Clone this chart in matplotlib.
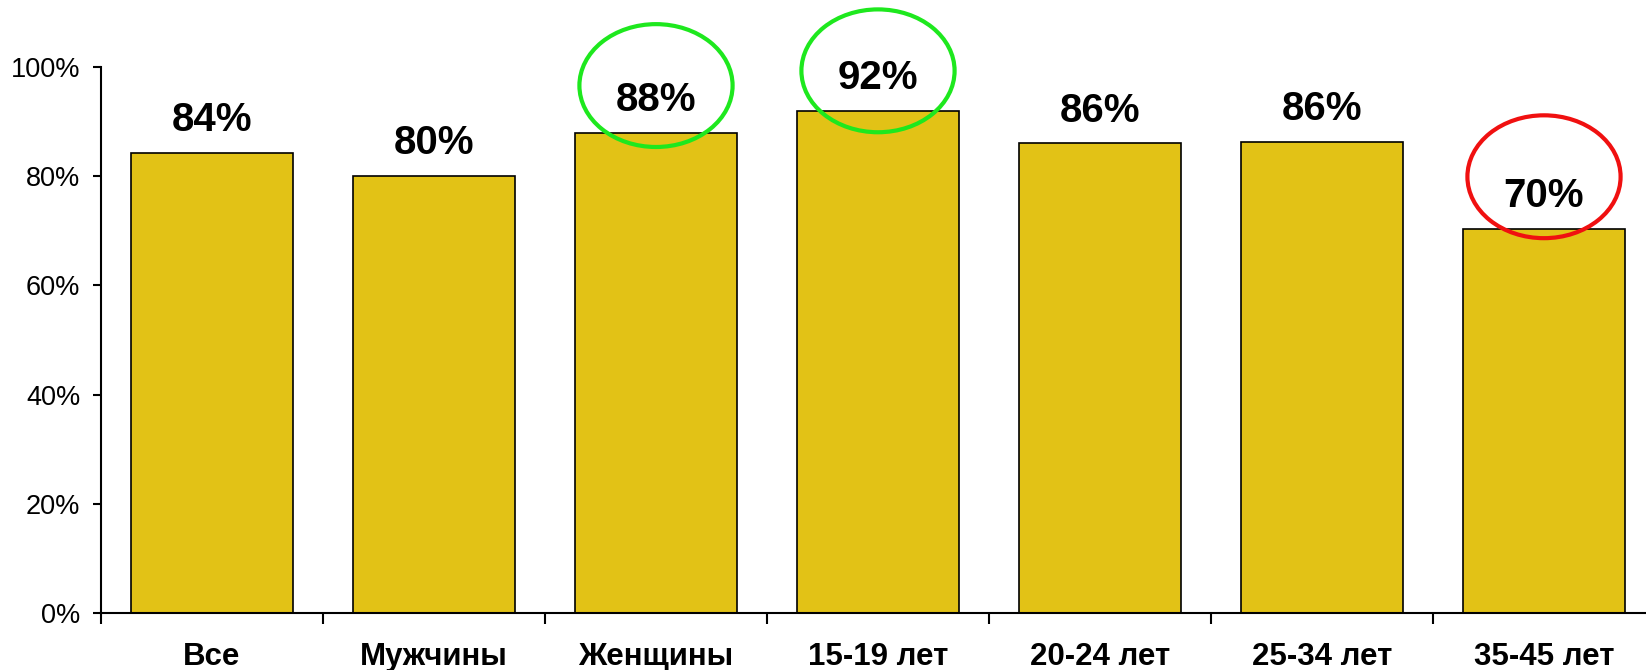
import numpy as np
import matplotlib
matplotlib.use("Agg")
import matplotlib.pyplot as plt
from matplotlib.patches import Ellipse

plt.rcParams['font.family'] = ['Liberation Sans', 'DejaVu Sans']

# data
categories = ['Все', 'Мужчины', 'Женщины', '15-19 лет', '20-24 лет', '25-34 лет', '35-45 лет']
values = [84.2, 80.0, 88.0, 92.0, 86.0, 86.3, 70.4]
labels = ['84%', '80%', '88%', '92%', '86%', '86%', '70%']
# bars circled on the slide: index, colour, centre above bar top (%)
hl_index = [2, 3, 6]
hl_color = ['#1EE81E', '#1EE81E', '#F01010']
hl_dy = [8.6, 7.3, 9.5]

bar_color = '#E2C216'

fig = plt.figure(figsize=(16.46, 6.70), dpi=100)
# axes run past the right edge, like the cropped slide
ax = fig.add_axes([101/1646, 57/670, 1554/1646, 546/670])

x = np.arange(len(categories))
ax.bar(x, values, width=0.73, color=bar_color, edgecolor='black', linewidth=1.2, zorder=2)

for xi, v, lab in zip(x, values, labels):
    ax.annotate(lab, (xi, v), xytext=(0, 10), textcoords='offset points',
                ha='center', va='bottom', fontsize=29, fontweight='bold')

for i, c, dy in zip(hl_index, hl_color, hl_dy):
    e = Ellipse((x[i], values[i] + dy), width=0.69, height=22.5, fill=False,
                edgecolor=c, linewidth=3.0, clip_on=False, zorder=3)
    ax.add_patch(e)

ax.set_xlim(-0.5, len(categories) - 0.5)
ax.set_ylim(0, 100)
ax.set_yticks(np.arange(0, 101, 20))
ax.set_yticklabels([f'{t}%' for t in range(0, 101, 20)], fontsize=19.5)
ax.set_xticks(np.arange(len(categories) + 1) - 0.5)
ax.set_xticklabels([])
ax.set_xticks(x, minor=True)
ax.set_xticklabels(categories, minor=True, fontsize=22.5, fontweight='bold')
ax.tick_params(axis='x', which='minor', length=0, pad=21)
ax.tick_params(axis='x', which='major', length=8, width=1.5, direction='out')
ax.tick_params(axis='y', length=6, width=1.5, direction='out', pad=9)

for s in ['top', 'right']:
    ax.spines[s].set_visible(False)
ax.spines['left'].set_linewidth(1.5)
ax.spines['bottom'].set_linewidth(1.5)

fig.savefig('out.png', dpi=100)
